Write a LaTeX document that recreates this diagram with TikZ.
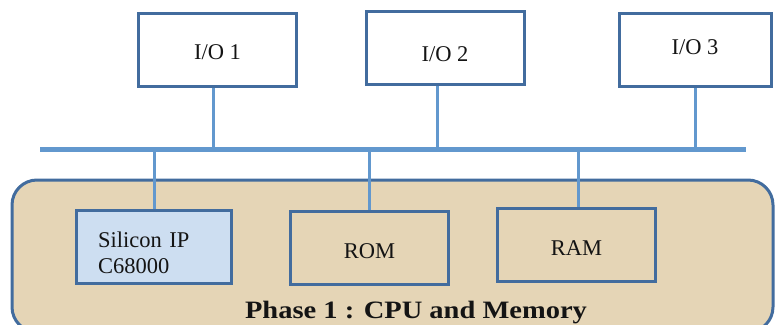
\documentclass[tikz,border=0pt]{standalone}
\usepackage{fontspec}
\setmainfont{Liberation Serif}
\newfontfamily\titlefont[FakeStretch=1.14]{Liberation Serif}
\usetikzlibrary{positioning}
\definecolor{boxblue}{RGB}{66,108,158}
\definecolor{wireblue}{RGB}{98,152,206}
\definecolor{cpufill}{RGB}{205,222,241}
\definecolor{sand}{RGB}{229,213,182}
\definecolor{ink}{RGB}{20,20,20}
\tikzset{
  unit/.style={draw=boxblue,line width=3pt,inner sep=0pt,
    minimum width=158pt,minimum height=73pt,text=ink,
    font=\fontsize{22.5}{26}\selectfont},
  cpubox/.style={unit,fill=cpufill,text width=112pt,align=left,minimum width=155pt},
  phasebox/.style={draw=boxblue,fill=sand,line width=3pt,rounded corners=25pt,
    inner sep=0pt,minimum width=761pt,minimum height=152pt},
  wire/.style={draw=wireblue,line width=3pt},
  busline/.style={draw=wireblue,line width=5pt},
}
\begin{document}
\begin{tikzpicture}[x=1pt,y=-1pt]
  \useasboundingbox (0,0) rectangle (775,324);
  \clip (0,0) rectangle (775,324);

  % phase 1 area
  \node[phasebox] (phase) at (392.5,256) {};
  \node[font=\titlefont\fontsize{25}{30}\selectfont\bfseries,text=ink,anchor=base]
    (title) at (416,318) {Phase 1 : CPU and Memory};

  % bus
  \coordinate (busL) at (40,149);
  \coordinate (busR) at (746,149);
  \draw[busline] (busL) -- (busR);

  % I/O devices
  \node[unit] (io1) at (217.5,50) {\raisebox{-2pt}[\height][\depth]{I/O 1}};
  \node[unit] (io2) at (445,48) {\raisebox{-6pt}[\height][\depth]{I/O 2}};
  \node[unit,minimum width=152pt] (io3) at (695,50) {\raisebox{3pt}[\height][\depth]{I/O 3}};

  % CPU and memory
  \node[cpubox] (cpu) at (154,247) {\raisebox{-6pt}[\height][\depth]{\parbox{112pt}{Silicon IP\\C68000}}};
  \node[unit] (rom) at (369.5,248) {\raisebox{-3pt}[\height][\depth]{ROM}};
  \node[unit] (ram) at (576.5,245) {\raisebox{-3pt}[\height][\depth]{RAM}};

  \draw[wire] ([xshift=-4pt]io1.south) -- ([xshift=-4pt]io1.south |- busL);
  \draw[wire] ([xshift=-8pt]io2.south) -- ([xshift=-8pt]io2.south |- busL);
  \draw[wire] (io3.south) -- (io3.south |- busL);
  \draw[wire] (cpu.north) -- (cpu.north |- busL);
  \draw[wire] (rom.north) -- (rom.north |- busL);
  \draw[wire] ([xshift=1.5pt]ram.north) -- ([xshift=1.5pt]ram.north |- busL);
\end{tikzpicture}
\end{document}
